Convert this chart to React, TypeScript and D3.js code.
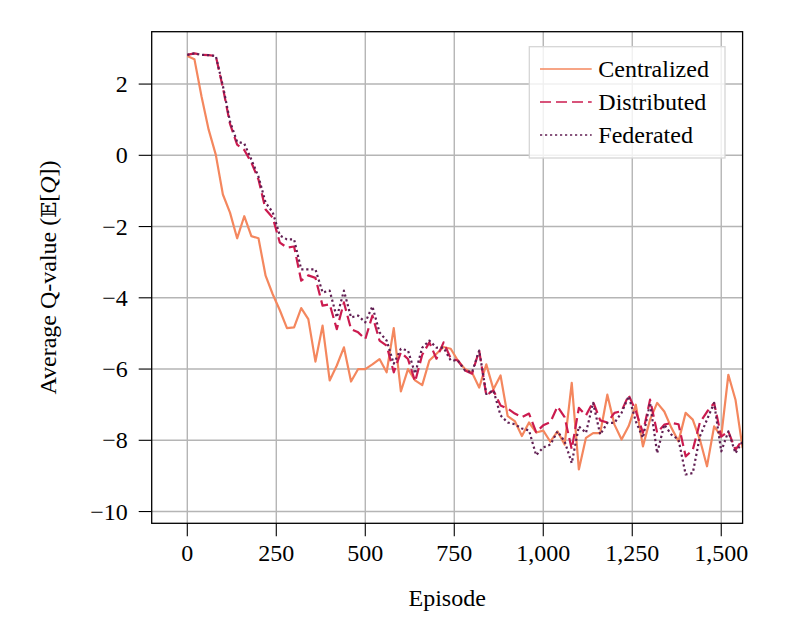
import React from "react";
import * as d3 from "d3";

const episodes: number[] = d3.range(0, 1561, 20);

const centralized: number[] = [
  2.79, 2.7, 1.65, 0.72, 0.02, -1.1, -1.61, -2.33, -1.71, -2.27,
  -2.33, -3.38, -3.9, -4.35, -4.85, -4.83, -4.29, -4.6, -5.79, -4.78,
  -6.32, -5.9, -5.39, -6.35, -6.0, -6.0, -5.87, -5.72, -6.09, -4.85,
  -6.63, -6.0, -6.32, -6.45, -5.76, -5.57, -5.38, -5.43, -5.76, -6.0,
  -6.1, -6.52, -5.87, -6.57, -6.18, -7.32, -7.46, -7.88, -7.5, -7.78,
  -7.73, -8.04, -7.75, -8.12, -6.39, -8.82, -7.93, -7.8, -7.8, -6.72,
  -7.56, -7.98, -7.6, -7.0, -8.17, -7.42, -6.95, -7.19, -7.65, -8.03,
  -7.23, -7.42, -7.98, -8.73, -7.61, -7.89, -6.16, -6.86, -8.22,
];

const distributed: number[] = [
  2.82, 2.86, 2.82, 2.81, 2.79, 1.9, 0.88, 0.3, 0.15, -0.2,
  -0.68, -1.52, -1.75, -2.45, -2.59, -2.56, -3.52, -3.37, -3.44, -4.22,
  -4.18, -4.88, -4.13, -4.88, -4.97, -5.16, -4.5, -5.2, -5.34, -6.09,
  -5.53, -5.72, -6.35, -5.6, -5.25, -5.71, -5.25, -5.7, -5.76, -6.04,
  -6.13, -5.48, -6.74, -6.6, -7.02, -7.11, -7.25, -7.35, -7.25, -7.77,
  -7.58, -7.49, -7.05, -7.35, -8.25, -7.09, -7.3, -6.92, -7.44, -7.5,
  -7.23, -7.18, -6.73, -7.18, -7.79, -6.86, -7.79, -7.56, -7.51, -7.55,
  -8.45, -8.27, -7.5, -7.2, -6.95, -7.9, -7.75, -8.27, -7.98,
];

const federated: number[] = [
  2.82, 2.86, 2.82, 2.81, 2.79, 1.95, 0.95, 0.38, 0.33, -0.12,
  -0.6, -1.33, -1.6, -2.25, -2.36, -2.36, -3.2, -3.2, -3.2, -3.85,
  -3.8, -4.55, -3.8, -4.55, -4.5, -4.69, -4.24, -4.97, -5.2, -5.85,
  -5.43, -5.48, -6.13, -5.4, -5.2, -5.4, -5.4, -5.76, -5.76, -6.04,
  -6.09, -5.48, -6.7, -6.6, -7.3, -7.5, -7.55, -7.67, -7.72, -8.42,
  -8.2, -8.12, -7.75, -8.03, -8.64, -7.61, -7.79, -6.95, -7.84, -7.51,
  -7.51, -7.23, -6.76, -7.47, -7.93, -6.95, -8.36, -7.56, -7.84, -7.98,
  -8.96, -8.92, -7.89, -7.42, -6.95, -8.31, -7.75, -8.36, -8.03,
];

const xTicks: number[] = [0, 250, 500, 750, 1000, 1250, 1500];
const yTicks: number[] = [-10, -8, -6, -4, -2, 0, 2];

const seriesNames: string[] = ["Centralized", "Distributed", "Federated"];
const seriesColors: string[] = ["#f4875e", "#cb1b4f", "#611f53"];
const seriesDash: string[] = ["", "11,5", "2.2,2.8"];

const W = 789;
const H = 624;
const L = 151.7;
const R = 742.6;
const T = 31.7;
const B = 523.3;
const FONT = "'Liberation Serif', 'Times New Roman', serif";

export default function App() {
  const x = d3.scaleLinear().domain([-100, 1560]).range([L, R]);
  const y = d3.scaleLinear().domain([-10.33, 3.47]).range([B, T]);
  const fmtX = d3.format(",");
  const fmtY = d3.format("d");
  const data = [centralized, distributed, federated];
  const line = d3
    .line<number>()
    .x((_, i) => x(episodes[i]))
    .y((d) => y(d));

  const legX = 529.3;
  const legY = 46.7;
  const legW = 195.7;
  const legH = 111.3;
  const rowY = [69, 102, 135];

  return (
    <svg
      width={W}
      height={H}
      style={{ position: "absolute", left: 0, top: 0, background: "#fff" }}
      fontFamily={FONT}
    >
      <defs>
        <clipPath id="plotclip">
          <rect x={L} y={T} width={R - L} height={B - T} />
        </clipPath>
      </defs>
      <rect x={0} y={0} width={W} height={H} fill="#fff" />
      {xTicks.map((t) => (
        <line key={"gx" + t} x1={x(t)} x2={x(t)} y1={T} y2={B} stroke="#b5b5b5" strokeWidth={1.4} />
      ))}
      {yTicks.map((t) => (
        <line key={"gy" + t} x1={L} x2={R} y1={y(t)} y2={y(t)} stroke="#b5b5b5" strokeWidth={1.4} />
      ))}
      <g clipPath="url(#plotclip)">
        {data.map((s, i) => (
          <path
            key={seriesNames[i]}
            d={line(s) || ""}
            fill="none"
            stroke={seriesColors[i]}
            strokeWidth={2.2}
            strokeDasharray={seriesDash[i] || undefined}
            strokeLinejoin="round"
          />
        ))}
      </g>
      <rect x={L} y={T} width={R - L} height={B - T} fill="none" stroke="#000" strokeWidth={1.3} />
      {xTicks.map((t) => (
        <g key={"xt" + t}>
          <line x1={x(t)} x2={x(t)} y1={B} y2={B + 13} stroke="#000" strokeWidth={1.1} />
          <text x={x(t)} y={B + 38} fontSize={24} textAnchor="middle" fill="#000">
            {fmtX(t)}
          </text>
        </g>
      ))}
      {yTicks.map((t) => (
        <g key={"yt" + t}>
          <line x1={L - 13} x2={L} y1={y(t)} y2={y(t)} stroke="#000" strokeWidth={1.1} />
          <text x={L - 24} y={y(t) + 8} fontSize={24} textAnchor="end" fill="#000">
            {fmtY(t)}
          </text>
        </g>
      ))}
      <text x={(L + R) / 2} y={606} fontSize={24} textAnchor="middle" fill="#000">
        Episode
      </text>
      <text
        transform={`translate(56, ${(T + B) / 2}) rotate(-90)`}
        fontSize={24}
        textAnchor="middle"
        fill="#000"
      >
        Average Q-value (<tspan fontFamily="'DejaVu Serif', serif" fontSize={21}>𝔼</tspan>[<tspan fontStyle="italic">Q</tspan>])
      </text>
      <rect x={legX} y={legY} width={legW} height={legH} fill="#fff" fillOpacity={0.8} stroke="#d6d6d6" strokeWidth={1.3} />
      {seriesNames.map((n, i) => (
        <g key={"lg" + n}>
          <line
            x1={540}
            x2={591.7}
            y1={rowY[i]}
            y2={rowY[i]}
            stroke={seriesColors[i]}
            strokeWidth={i === 0 ? 1.6 : 1.4}
            strokeDasharray={seriesDash[i] || undefined}
          />
          <text x={598.3} y={rowY[i] + 8} fontSize={24} fill="#000">
            {n}
          </text>
        </g>
      ))}
    </svg>
  );
}
